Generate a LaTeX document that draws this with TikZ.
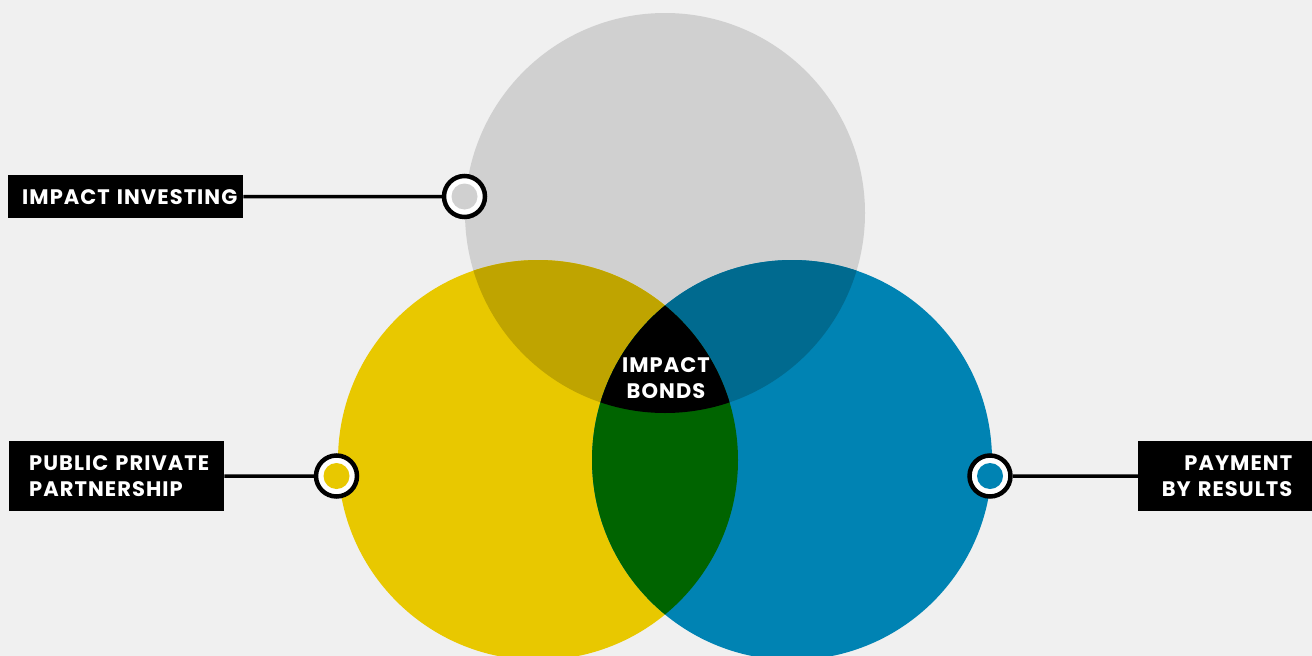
\documentclass[tikz,border=0pt]{standalone}
\usepackage{fontspec}
\setmainfont{Poppins}
\newfontfamily\lblf[LetterSpace=5]{Poppins}
\definecolor{bg}{HTML}{F0F0F0}
\definecolor{cgray}{HTML}{D0D0D0}
\definecolor{cyel}{HTML}{E8C800}
\definecolor{cblue}{HTML}{0083B3}
\definecolor{cyg}{HTML}{BFA400}
\definecolor{cbg}{HTML}{006A8F}
\definecolor{cyb}{HTML}{006400}
\tikzset{
  lblfont/.style={font=\lblf\fontsize{21}{26}\selectfont\bfseries},
  lbl/.style={lblfont, fill=black, text=white, inner sep=0pt, anchor=north west},
  conn/.style={line width=3.5pt, draw=black},
  marker/.style={circle, draw=black, line width=4.5pt, fill=white, minimum size=41pt, inner sep=0pt},
  dot/.style={circle, minimum size=26pt, inner sep=0pt},
}
\begin{document}
\begin{tikzpicture}[x=1pt,y=-1pt]
\useasboundingbox (0,0) rectangle (1312,656);
\fill[bg] (0,0) rectangle (1312,656);
\coordinate (G) at (665,213);
\coordinate (Y) at (538,460);
\coordinate (B) at (792,460);
\fill[cgray] (G) circle (200);
\fill[cyel] (Y) circle (200);
\fill[cblue] (B) circle (200);
\begin{scope}
  \clip (G) circle (200);
  \fill[cyg] (Y) circle (200);
  \fill[cbg] (B) circle (200);
\end{scope}
\begin{scope}
  \clip (Y) circle (200);
  \fill[cyb] (B) circle (200);
  \clip (B) circle (200);
  \fill[black] (G) circle (200);
\end{scope}
\node[lblfont, text=white, align=center, inner sep=0pt] (ib) at (666,378) {IMPACT\\BONDS};
% labels
\node[lbl, minimum height=43pt, align=left, text width=235pt] (l1) at (8,175) {\hspace*{14pt}IMPACT INVESTING};
\node[lbl, minimum height=70pt, align=left, text width=215pt] (l2) at (9,441) {\hspace*{20pt}PUBLIC PRIVATE\\\hspace*{20pt}PARTNERSHIP};
\node[lbl, minimum height=70pt, align=right, inner xsep=20pt, text width=134pt] (l3) at (1138,441) {PAYMENT\\BY RESULTS};
% markers
\node[marker] (m1) at (464.5,196.5) {};
\node[marker] (m2) at (336.5,476) {};
\node[marker] (m3) at (990,476) {};
\node[dot, fill=cgray] (d1) at (m1) {};
\node[dot, fill=cyel] (d2) at (m2) {};
\node[dot, fill=cblue] (d3) at (m3) {};
\draw[conn] (l1.east) -- (m1.west);
\draw[conn] (l2.east) -- (m2.west);
\draw[conn] (l3.west) -- (m3.east);
\end{tikzpicture}
\end{document}
